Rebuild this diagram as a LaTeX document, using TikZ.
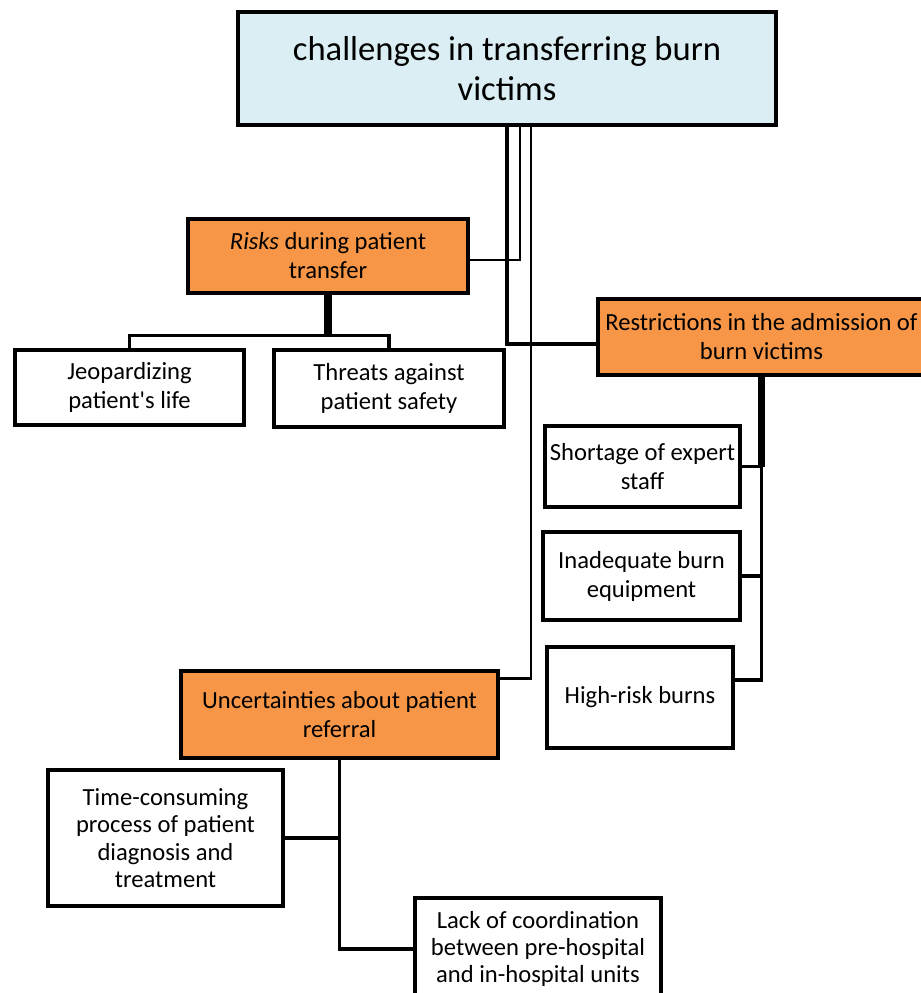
\documentclass[tikz,border=0pt]{standalone}
\usepackage{fontspec}
\setmainfont{Carlito}[Ligatures=TeXOff]
\definecolor{titleblue}{HTML}{DBEEF4}
\definecolor{boxorange}{HTML}{F79646}
\tikzset{
	box/.style={draw, line width=2.6pt, align=center, inner sep=0pt, font=\fontsize{14}{16.5}\selectfont},
	mainbox/.style={box, fill=boxorange},
	leafbox/.style={box, fill=white},
	link/.style={line width=2pt}
}
\begin{document}
\begin{tikzpicture}
	\useasboundingbox (0,0) rectangle (18.42,-19.86);

	\node[box, fill=titleblue, minimum width=10.76cm, minimum height=2.26cm, font=\fontsize{19.7}{22.8}\selectfont] (title) at (10.14,-1.37) {challenges in transferring burn\\victims};

	\node[mainbox, minimum width=5.6cm, minimum height=1.48cm] (risks) at (6.56,-5.12) {\textit{Risks} during patient\\transfer};
	\node[leafbox, minimum width=4.58cm, minimum height=1.5cm] (jeop) at (2.59,-7.75) {Jeopardizing\\patient's life};
	\node[leafbox, minimum width=4.6cm, minimum height=1.54cm] (threat) at (7.78,-7.77) {Threats against\\patient safety};

	\node[mainbox, minimum width=6.54cm, minimum height=1.52cm] (restr) at (15.23,-6.74) {Restrictions in the admission of\\burn victims};
	\node[leafbox, minimum width=3.9cm, minimum height=1.62cm] (short) at (12.85,-9.33) {Shortage of expert\\staff};
	\node[leafbox, minimum width=3.94cm, minimum height=1.76cm] (inad) at (12.83,-11.52) {Inadequate burn\\equipment};
	\node[leafbox, minimum width=3.72cm, minimum height=2.02cm] (high) at (12.8,-13.95) {High-risk burns};

	\node[mainbox, minimum width=6.34cm, minimum height=1.74cm] (unc) at (6.79,-14.29) {Uncertainties about patient\\referral};
	\node[leafbox, minimum width=4.7cm, minimum height=2.72cm, font=\fontsize{14}{15.5}\selectfont] (time) at (3.31,-16.76) {Time-consuming\\process of patient\\diagnosis and\\treatment};
	\node[leafbox, minimum width=4.92cm, minimum height=2.04cm, font=\fontsize{14}{15.6}\selectfont] (lack) at (10.76,-18.98) {Lack of coordination\\between pre-hospital\\and in-hospital units};

	\draw[link] (title.south) |- ([yshift=-0.14cm]restr.west);
	\draw[link, line width=1.6pt] ([xshift=0.26cm]title.south) |- ([yshift=-0.08cm]risks.east);
	\draw[link, line width=1.4pt] ([xshift=0.48cm]title.south) |- ([yshift=0.72cm]unc.east);

	\draw[link, line width=4.5pt] (risks.south) -- ([yshift=0.24cm]risks.south |- jeop.north);
	\draw[link] (jeop.north) -- ++(0,0.24) -| (threat.north);

	\draw[link, line width=4pt] (restr.south) -- (restr.south |- short.east);
	\draw[link] (restr.south) |- ([yshift=0.35cm]high.east);
	\draw[link] (short.east) -- (restr.south |- short.east);
	\draw[link] (inad.east) -- (restr.south |- inad.east);

	\draw[link] (unc.south) |- (time.east);
	\draw[link] (unc.south) |- (lack.west);
\end{tikzpicture}
\end{document}
